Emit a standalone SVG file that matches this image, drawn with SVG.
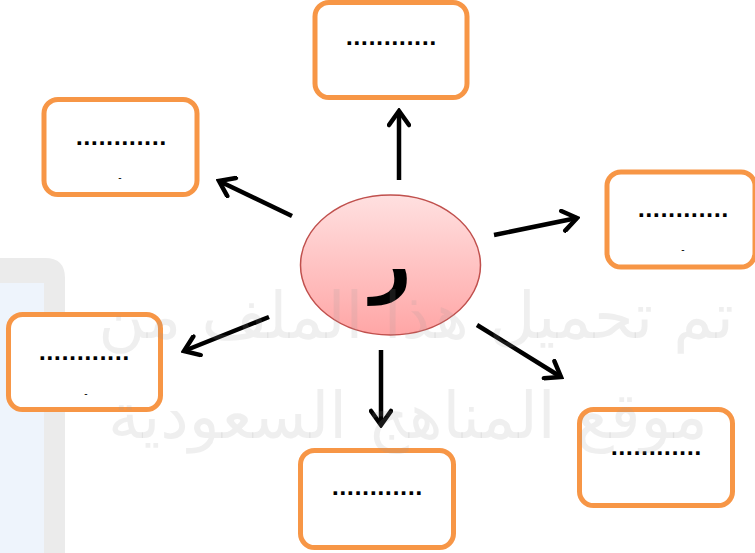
<svg xmlns="http://www.w3.org/2000/svg" width="755" height="553" viewBox="0 0 755 553">
<defs>
<style>
.box{fill:#fff;stroke:#F79646;stroke-width:5}
.dots{font-family:"DejaVu Sans",sans-serif;font-size:20px;font-weight:bold;fill:#000;text-anchor:middle}
.dash{font-family:"Liberation Sans",sans-serif;font-size:10px;fill:#000;text-anchor:middle}
.arr{stroke:#000;stroke-width:4.5;fill:none;marker-end:url(#ah)}
.wm{font-family:"DejaVu Sans",sans-serif;font-size:64px;fill:#9a9a9a;fill-opacity:0.16;text-anchor:middle}
</style>
<linearGradient id="g" x1="0" y1="0" x2="0" y2="1">
<stop offset="0" stop-color="#FFE0E0"/>
<stop offset="1" stop-color="#FFA6A6"/>
</linearGradient>
<marker id="ah" viewBox="0 0 20 24" refX="17" refY="12" markerWidth="20" markerHeight="24" markerUnits="userSpaceOnUse" orient="auto">
<path d="M3,2 L17,12 L3,22" fill="none" stroke="#000" stroke-width="4.5" stroke-linecap="round" stroke-linejoin="miter"/>
</marker>
</defs>
<g id="logo">
<path d="M0,258 H45 Q65,258 65,278 V553 H0 Z" fill="#EBEBEB"/>
<rect x="0" y="283" width="44" height="270" fill="#EEF4FC"/>
</g>
<g id="connectors">
<line class="arr" x1="399" y1="180" x2="399" y2="111"/>
<line class="arr" x1="292" y1="216" x2="219" y2="181"/>
<line class="arr" x1="494" y1="235" x2="577" y2="218"/>
<line class="arr" x1="269" y1="317" x2="184" y2="351"/>
<line class="arr" x1="381" y1="350" x2="381" y2="425"/>
<line class="arr" x1="477" y1="325" x2="561" y2="377"/>
</g>
<g id="center">
<ellipse cx="390.5" cy="265" rx="90" ry="70" fill="url(#g)" stroke="#C0504D" stroke-width="1.5"/>
<text x="391" y="288" font-family="DejaVu Sans,sans-serif" font-size="72" font-weight="bold" text-anchor="middle" fill="#000">ر</text>
</g>
<g id="n-top">
<rect class="box" x="315" y="2.5" width="152" height="95" rx="14"/>
<text class="dots" x="391" y="45">............</text>
</g>
<g id="n-topleft">
<rect class="box" x="44" y="99.5" width="153" height="95" rx="14"/>
<text class="dots" x="121" y="145">............</text>
<text class="dash" x="120" y="181">-</text>
</g>
<g id="n-right">
<rect class="box" x="607" y="172" width="148" height="95" rx="14"/>
<text class="dots" x="683" y="217">............</text>
<text class="dash" x="683" y="253">-</text>
</g>
<g id="n-left">
<rect class="box" x="8.5" y="314.5" width="152" height="95" rx="14"/>
<text class="dots" x="84" y="360">............</text>
<text class="dash" x="86" y="397">-</text>
</g>
<g id="n-bottomright">
<rect class="box" x="579.5" y="409.5" width="153" height="96" rx="14"/>
<text class="dots" x="656" y="455">............</text>
</g>
<g id="n-bottom">
<rect class="box" x="300.5" y="450.5" width="153" height="97" rx="14"/>
<text class="dots" x="377" y="495">............</text>
</g>
<g id="watermark">
<text class="wm" x="416" y="338" direction="rtl">تم تحميل هذا الملف من</text>
<text class="wm" x="408" y="438" direction="rtl">موقع المناهج السعودية</text>
</g>
</svg>
